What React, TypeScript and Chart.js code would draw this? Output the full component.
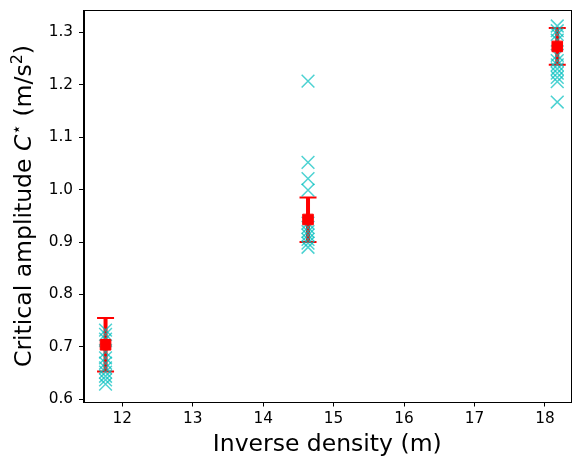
import React, { useEffect, useRef } from "react";
import { Chart, registerables, ScatterController } from "chart.js";

Chart.register(...registerables);
// keep point size from shrinking the plot area (matplotlib-like fixed axes box)
(ScatterController as any).prototype.getMaxOverflow = function () {
  return 0;
};

// ---- data ----
const clusterX = [11.763, 14.637, 18.175];
const meanValues = [0.704, 0.943, 1.273];
const errLow = [0.653, 0.9, 1.238];
const errHigh = [0.755, 0.985, 1.308];
const samples1 = [0.732, 0.724, 0.715, 0.69, 0.679, 0.669, 0.66, 0.652, 0.644, 0.637, 0.629];
const samples2 = [1.207, 1.052, 1.021, 0.999, 0.936, 0.928, 0.92, 0.913, 0.905, 0.898, 0.89];
const samples3 = [1.312, 1.303, 1.296, 1.285, 1.256, 1.246, 1.238, 1.23, 1.222, 1.214, 1.206, 1.167];
const sampleGroups = [samples1, samples2, samples3];
const xTicks = [12, 13, 14, 15, 16, 17, 18];
const yTicks = [0.6, 0.7, 0.8, 0.9, 1.0, 1.1, 1.2, 1.3];
const xLabel = "Inverse density (m)";

const FONT = "'DejaVu Sans', sans-serif";

const boxPlugin = {
  id: "boxAndYLabel",
  afterDraw(chart: any) {
    const { ctx, chartArea } = chart;
    ctx.save();
    ctx.strokeStyle = "#000";
    ctx.lineWidth = 1;
    ctx.strokeRect(
      Math.round(chartArea.left) + 0.5,
      Math.round(chartArea.top) + 0.5,
      Math.round(chartArea.right - chartArea.left) - 1,
      Math.round(chartArea.bottom - chartArea.top)
    );
    // y label with rich text
    const big = 23.5;
    const small = 16;
    const parts = [
      { t: "Critical amplitude ", f: `${big}px ${FONT}`, dy: 0 },
      { t: "C", f: `italic ${big}px ${FONT}`, dy: 0 },
      { t: "\u22C6", f: `${small + 1}px ${FONT}`, dy: -9 },
      { t: " (m/s", f: `${big}px ${FONT}`, dy: 0 },
      { t: "2", f: `${small}px ${FONT}`, dy: -9 },
      { t: ")", f: `${big}px ${FONT}`, dy: 0 },
    ];
    let total = 0;
    const widths: number[] = [];
    for (const p of parts) {
      ctx.font = p.f;
      const w = ctx.measureText(p.t).width;
      widths.push(w);
      total += w;
    }
    const cy = (chartArea.top + chartArea.bottom) / 2;
    ctx.translate(31, cy);
    ctx.rotate(-Math.PI / 2);
    ctx.fillStyle = "#000";
    ctx.textBaseline = "alphabetic";
    ctx.textAlign = "left";
    let x = -total / 2;
    parts.forEach((p, i) => {
      ctx.font = p.f;
      ctx.fillText(p.t, x, p.dy);
      x += widths[i];
    });
    ctx.restore();
  },
};

const zeroPad = (s: any) => {
  s.paddingTop = 0;
  s.paddingBottom = 0;
  s.paddingLeft = 0;
  s.paddingRight = 0;
};

export default function App() {
  const ref = useRef<HTMLCanvasElement | null>(null);

  useEffect(() => {
    if (!ref.current) return;
    const errDatasets = clusterX.map((cx, i) => ({
      type: "scatter" as const,
      label: `err${i}`,
      data: [
        { x: cx, y: errLow[i] },
        { x: cx, y: errHigh[i] },
      ],
      showLine: true,
      borderColor: "#ff0000",
      backgroundColor: "#ff0000",
      borderWidth: 4,
      pointStyle: "line" as const,
      pointRadius: 8.5,
      pointBorderWidth: 2,
      pointBorderColor: "#ff0000",
      order: 3,
    }));
    const sampleData = clusterX.flatMap((cx, i) => sampleGroups[i].map((v) => ({ x: cx, y: v })));
    const chart = new Chart(ref.current, {
      type: "scatter",
      data: {
        datasets: [
          ...errDatasets,
          {
            label: "samples",
            data: sampleData,
            pointStyle: "crossRot",
            pointRadius: 9,
            pointBorderWidth: 1.5,
            borderColor: "rgba(0,191,191,0.7)",
            backgroundColor: "rgba(0,191,191,0.7)",
            order: 2,
          },
          {
            label: "mean",
            data: clusterX.map((cx, i) => ({ x: cx, y: meanValues[i] })),
            pointStyle: "rect",
            pointRadius: 7.5,
            pointBorderWidth: 1,
            borderColor: "#ff0000",
            backgroundColor: "#ff0000",
            order: 1,
          },
        ],
      },
      options: {
        responsive: false,
        animation: false,
        devicePixelRatio: 1,
        layout: { padding: { left: 0, right: 1, top: 10, bottom: 0 } },
        plugins: { legend: { display: false }, tooltip: { enabled: false } },
        scales: {
          x: {
            type: "linear",
            min: 11.45,
            max: 18.37,
            afterBuildTicks: (s: any) => {
              s.ticks = xTicks.map((v) => ({ value: v }));
            },
            afterFit: (s: any) => {
              s.height = 57;
              zeroPad(s);
            },
            ticks: {
              color: "#000",
              font: { family: FONT, size: 15.3 },
              padding: 3,
              callback: (v: any) => String(v),
            },
            grid: { drawOnChartArea: false, drawTicks: true, tickLength: 4.5, color: "#000" },
            border: { display: true, color: "#000", width: 1 },
            title: {
              display: true,
              text: xLabel,
              color: "#000",
              font: { family: FONT, size: 23.5 },
              padding: { top: 0, bottom: 0 },
            },
          },
          y: {
            type: "linear",
            min: 0.5949,
            max: 1.3425,
            afterBuildTicks: (s: any) => {
              s.ticks = yTicks.map((v) => ({ value: v }));
            },
            afterFit: (s: any) => {
              s.width = 83.5;
              zeroPad(s);
            },
            ticks: {
              color: "#000",
              font: { family: FONT, size: 15.3 },
              padding: 6,
              callback: (v: any) => Number(v).toFixed(1),
            },
            grid: { drawOnChartArea: false, drawTicks: true, tickLength: 4.5, color: "#000" },
            border: { display: true, color: "#000", width: 1 },
          },
        },
      } as any,
      plugins: [boxPlugin],
    });
    return () => chart.destroy();
  }, []);

  return (
    <div style={{ position: "fixed", left: 0, top: 0, width: 572, height: 459, background: "#fff" }}>
      <canvas ref={ref} width={572} height={459} />
    </div>
  );
}
